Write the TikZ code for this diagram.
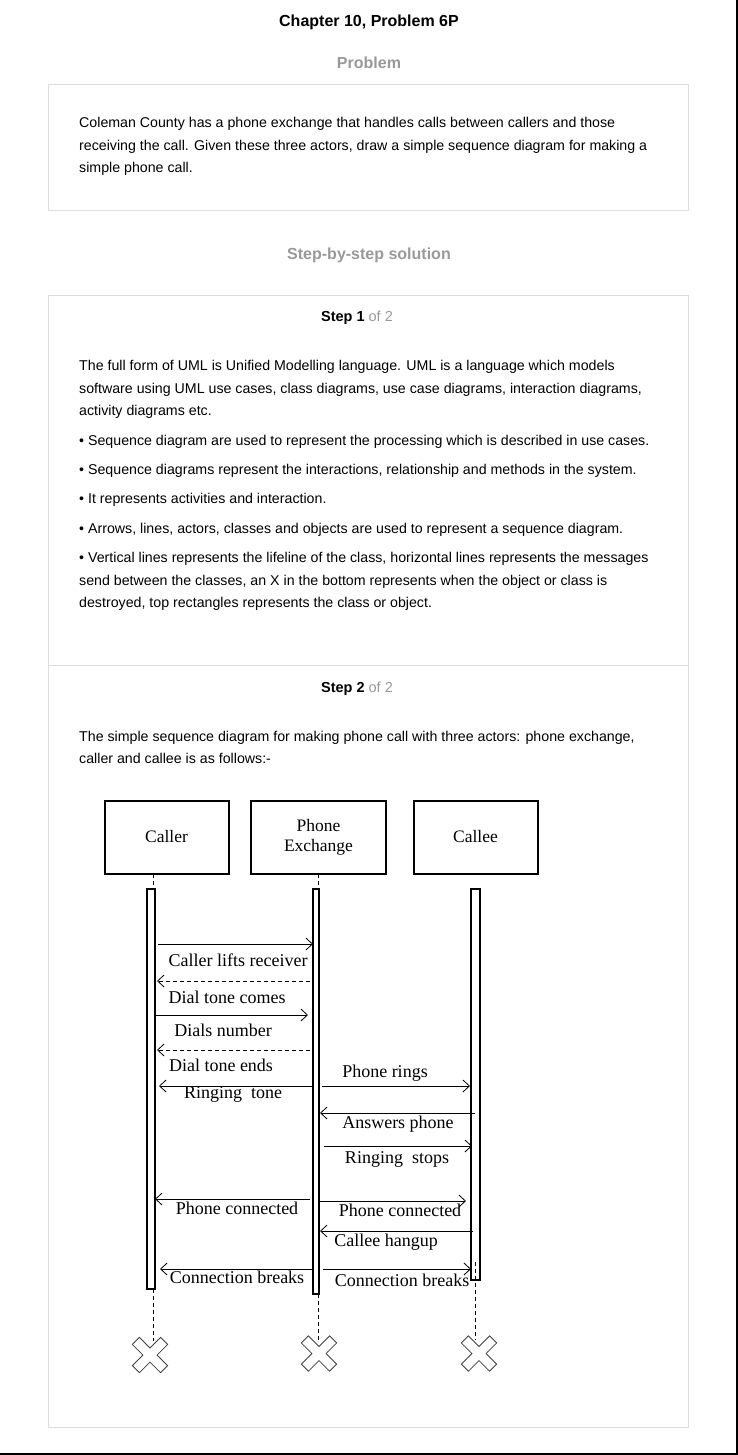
\documentclass[tikz,border=0pt]{standalone}
\usepackage{fontspec}
\setmainfont{Liberation Sans}
\newfontfamily\tnr{Liberation Serif}
\usetikzlibrary{arrows.meta}
\definecolor{lgray}{HTML}{DDDDDD}
\definecolor{tgray}{HTML}{999999}
\begin{document}
\begin{tikzpicture}[x=1pt,y=-1pt,
  txt/.style={anchor=base west,inner sep=0pt,font=\fontsize{14.2}{16}\selectfont},
  ctxt/.style={anchor=base,inner sep=0pt},
  panel/.style={draw=lgray,line width=1pt},
  actor/.style={draw,line width=2pt,minimum width=124pt,minimum height=73pt,inner sep=0pt,font=\tnr\fontsize{17.5}{20}\selectfont,align=center},
  bar/.style={draw,line width=2pt,fill=white},
  life/.style={dash pattern=on 4pt off 3pt,line width=0.8pt},
  msg/.style={line width=0.8pt,-{Straight Barb[length=6.5pt,width=12pt,line width=0.8pt]}},
  rmsg/.style={msg,dash pattern=on 4pt off 3pt},
  lbl/.style={inner sep=0pt,font=\tnr\fontsize{18}{20}\selectfont},
  xmark/.style={draw=black!75,line width=0.8pt,fill=white}]
\useasboundingbox (0,0) rectangle (738,1455);
% page border (right and bottom)
\draw[line width=2pt] (737,0) -- (737,1454) -- (0,1454);
% headings
\node[ctxt,font=\bfseries\fontsize{16}{18}\selectfont] (title) at (369,27) {Chapter 10, Problem 6P};
\node[ctxt,font=\bfseries\fontsize{16}{18}\selectfont,text=tgray] (hprob) at (369,69) {Problem};
\draw[panel] (48,85) rectangle (688,211);
\node[txt] (p1) at (79,128) {Coleman County has a phone exchange that handles calls between callers and those};
\node[txt] (p2) at (79,151) {receiving the call. Given these three actors, draw a simple sequence diagram for making a};
\node[txt] (p3) at (79,173) {simple phone call.};
\node[ctxt,font=\bfseries\fontsize{16}{18}\selectfont,text=tgray] (hsol) at (369,259) {Step-by-step solution};
\draw[panel] (48,295) rectangle (688,1427);
\draw[panel] (48,665) -- (688,665);
\node[ctxt,font=\fontsize{14.5}{16}\selectfont] (s1) at (357,321) {\textbf{Step 1} \textcolor{tgray}{of 2}};
\node[txt] (a1) at (79,370) {The full form of UML is Unified Modelling language. UML is a language which models};
\node[txt] (a2) at (79,393) {software using UML use cases, class diagrams, use case diagrams, interaction diagrams,};
\node[txt] (a3) at (79,415) {activity diagrams etc.};
\node[txt] (b1) at (79,445) {• Sequence diagram are used to represent the processing which is described in use cases.};
\node[txt] (b2) at (79,474) {• Sequence diagrams represent the interactions, relationship and methods in the system.};
\node[txt] (b3) at (79,503) {• It represents activities and interaction.};
\node[txt] (b4) at (79,533) {• Arrows, lines, actors, classes and objects are used to represent a sequence diagram.};
\node[txt] (b5) at (79,562) {• Vertical lines represents the lifeline of the class, horizontal lines represents the messages};
\node[txt] (b6) at (79,585) {send between the classes, an X in the bottom represents when the object or class is};
\node[txt] (b7) at (79,607) {destroyed, top rectangles represents the class or object.};
\node[ctxt,font=\fontsize{14.5}{16}\selectfont] (s2) at (357,692) {\textbf{Step 2} \textcolor{tgray}{of 2}};
\node[txt] (c1) at (79,741) {The simple sequence diagram for making phone call with three actors: phone exchange,};
\node[txt] (c2) at (79,763) {caller and callee is as follows:-};
% actors
\node[actor] (caller) at (166.5,837) {Caller};
\node[actor,minimum width=135pt] (pex) at (318.5,837) {Phone\\Exchange};
\node[actor] (callee) at (475.5,837) {Callee};
% lifelines
\coordinate (cl1) at (153,874); \coordinate (cl2) at (153,889);
\coordinate (cl3) at (153,1289); \coordinate (cl4) at (153,1341);
\coordinate (pl1) at (318.7,874); \coordinate (pl2) at (318.7,889);
\coordinate (pl3) at (318.7,1294); \coordinate (pl4) at (318.7,1340);
\coordinate (el3) at (475.7,1262); \coordinate (el4) at (475.7,1340);
\draw[life] (cl1) -- (cl2); \draw[life] (cl3) -- (cl4);
\draw[life] (pl1) -- (pl2); \draw[life] (pl3) -- (pl4);
% activation bars
\draw[bar] (146.5,889) rectangle (154.5,1289);
\draw[bar] (313,889) rectangle (319,1294);
\draw[bar] (470.5,888.5) rectangle (479.5,1279.5);
\draw[life] (el3) -- (el4);
% destruction marks
\foreach \n/\cx/\cy in {xc/150/1355, xp/319/1353.5, xe/479/1353.5}{
  \draw[xmark,shift={(\cx,\cy)},rotate=45] (-5,-20) -- (5,-20) -- (5,-5) -- (20,-5) -- (20,5) -- (5,5) -- (5,20) -- (-5,20) -- (-5,5) -- (-20,5) -- (-20,-5) -- (-5,-5) -- cycle;
}
% message endpoints
\coordinate (m1a) at (158,944);  \coordinate (m1b) at (313,944);
\coordinate (m2a) at (310,981);  \coordinate (m2b) at (157,981);
\coordinate (m3a) at (155,1015); \coordinate (m3b) at (308,1015);
\coordinate (m4a) at (310,1050); \coordinate (m4b) at (157,1050);
\coordinate (m5a) at (312,1086); \coordinate (m5b) at (159,1086);
\coordinate (m6a) at (322,1086); \coordinate (m6b) at (470,1086);
\coordinate (m7a) at (475,1113); \coordinate (m7b) at (320,1113);
\coordinate (m8a) at (324,1146); \coordinate (m8b) at (472,1146);
\coordinate (m9a) at (310,1199); \coordinate (m9b) at (155,1199);
\coordinate (m10a) at (318,1201); \coordinate (m10b) at (466,1201);
\coordinate (m11a) at (473,1231); \coordinate (m11b) at (320,1231);
\coordinate (m12a) at (313,1269); \coordinate (m12b) at (160,1269);
\coordinate (m13a) at (323,1269); \coordinate (m13b) at (471,1269);
\draw[msg]  (m1a) -- (m1b);
\draw[rmsg] (m2a) -- (m2b);
\draw[msg]  (m3a) -- (m3b);
\draw[rmsg] (m4a) -- (m4b);
\draw[msg]  (m5a) -- (m5b);
\draw[msg]  (m6a) -- (m6b);
\draw[msg]  (m7a) -- (m7b);
\draw[msg]  (m8a) -- (m8b);
\draw[msg]  (m9a) -- (m9b);
\draw[msg]  (m10a) -- (m10b);
\draw[msg]  (m11a) -- (m11b);
\draw[msg]  (m12a) -- (m12b);
\draw[msg]  (m13a) -- (m13b);
% labels
\node[lbl] (l1) at (238,960) {Caller lifts receiver};
\node[lbl] (l2) at (227,997) {Dial tone comes};
\node[lbl] (l3) at (223,1030) {Dials number};
\node[lbl] (l4) at (221,1065) {Dial tone ends};
\node[lbl] (l5) at (233,1094) {Ringing\ \ tone};
\node[lbl] (l6) at (385,1073) {Phone rings};
\node[lbl] (l7) at (398,1124) {Answers phone};
\node[lbl] (l8) at (397,1159) {Ringing\ \ stops};
\node[lbl] (l9) at (237,1208) {Phone connected};
\node[lbl] (l10) at (400,1210) {Phone connected};
\node[lbl] (l11) at (386,1242) {Callee hangup};
\node[lbl] (l12) at (237,1277) {Connection breaks};
\node[lbl] (l13) at (402,1280) {Connection breaks};
\end{tikzpicture}
\end{document}
